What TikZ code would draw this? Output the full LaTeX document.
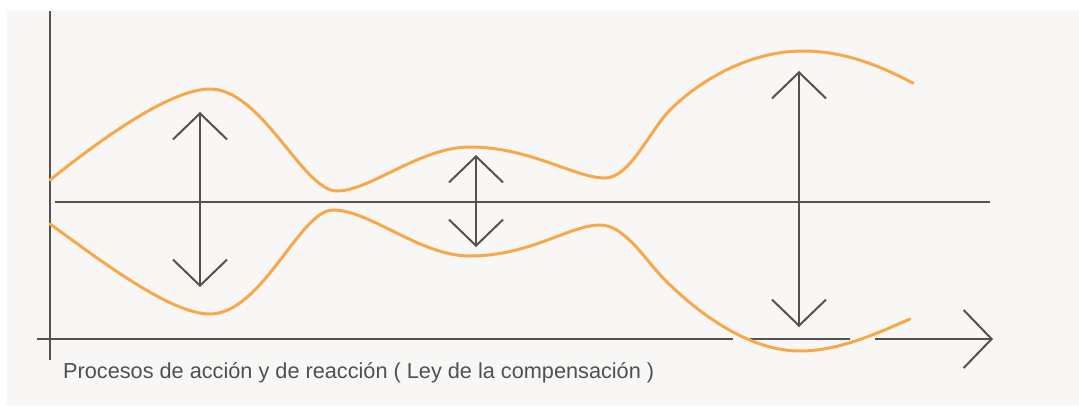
\documentclass[tikz,border=0pt]{standalone}
\usepackage{fontspec}
\setmainfont{Liberation Sans}
\usetikzlibrary{arrows.meta}
\definecolor{bgc}{HTML}{F8F7F5}
\definecolor{axc}{HTML}{555151}
\definecolor{orc}{HTML}{F8A84A}
\definecolor{txc}{HTML}{505050}
\tikzset{
  axisline/.style={draw=axc,line width=2pt},
  dblarrow/.style={draw=axc,line width=2pt,{Straight Barb[length=26pt,width=54pt]}-{Straight Barb[length=26pt,width=54pt]}},
  wave/.style={draw=orc,line width=3pt,line cap=round},
  gapmask/.style={fill=bgc},
  caption/.style={text=txc,font=\fontsize{21.7}{24}\selectfont,anchor=base west,inner sep=0pt}
}
\begin{document}
\begin{tikzpicture}[x=1pt,y=-1pt]
\useasboundingbox (0,0) rectangle (1079,405);
\fill[white] (0,0) rectangle (1079,405);
\fill[bgc] (7,11) rectangle (1079,405);
% axes
\coordinate (vtop) at (50,11);
\coordinate (vbot) at (50,360);
\coordinate (hleft) at (37,339);
\coordinate (hright) at (993,339);
\coordinate (mleft) at (55,202);
\coordinate (mright) at (990,202);
\draw[axisline] (vtop) -- (vbot);
\draw[axisline,-{Straight Barb[length=28pt,width=58pt]}] (hleft) -- (hright);
\draw[axisline] (mleft) -- (mright);
% small breaks of the x axis where the wave crosses it
\fill[gapmask] (733,336) rectangle (750,342);
\fill[gapmask] (850,336) rectangle (875,342);
% orange waves
\draw[wave] (50,180) .. controls (100,140) and (170,89) .. (210,89)
  .. controls (262,89) and (303,191) .. (337,191)
  .. controls (370,191) and (420,147) .. (470,147)
  .. controls (530,147) and (575,178) .. (605,178)
  .. controls (630,178) and (650,130) .. (670,110)
  .. controls (700,80) and (750,51) .. (803,51)
  .. controls (845,51) and (880,66) .. (913,83);
\draw[wave] (50,224) .. controls (100,260) and (170,314) .. (210,314)
  .. controls (262,314) and (300,210) .. (333,210)
  .. controls (370,210) and (420,256) .. (470,256)
  .. controls (530,256) and (570,225) .. (600,225)
  .. controls (625,225) and (645,260) .. (665,280)
  .. controls (700,315) and (750,351) .. (800,351)
  .. controls (840,351) and (880,332) .. (910,319);
% double arrows
\coordinate (a1t) at (200,112);
\coordinate (a1b) at (200,287);
\coordinate (a2t) at (476,155);
\coordinate (a2b) at (476,247);
\coordinate (a3t) at (799,71);
\coordinate (a3b) at (799,327);
\draw[dblarrow] (a1t) -- (a1b);
\draw[dblarrow] (a2t) -- (a2b);
\draw[dblarrow] (a3t) -- (a3b);
% caption
\node[caption] (cap) at (63,378) {Procesos de acción y de reacción ( Ley de la compensación )};
\end{tikzpicture}
\end{document}
